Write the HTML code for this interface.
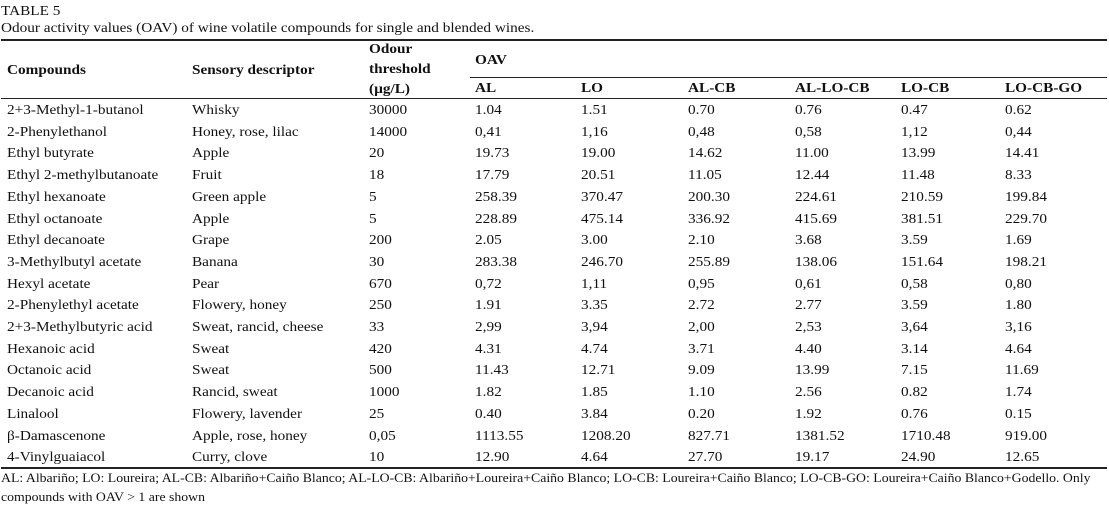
<!DOCTYPE html>
<html><head><meta charset="utf-8"><style>
body{margin:0;width:1109px;height:514px;background:#fff;position:relative;font-family:"Liberation Serif",serif;font-size:14px;color:#111;overflow:hidden}
.t,.col{position:absolute;white-space:nowrap;line-height:16px;transform:scaleX(1.09);transform-origin:0 0}
.col{line-height:21.7px;top:100px}
.b{font-weight:bold}
.l{position:absolute;background:#222}
.f{font-size:13px;transform:scaleX(1.06)}
</style></head><body>
<div class="t" style="left:1px;top:4px">TABLE 5</div>
<div class="t" style="left:1px;top:21px">Odour activity values (OAV) of wine volatile compounds for single and blended wines.</div>
<div class="l" style="left:1px;top:39px;width:1106px;height:2px"></div>
<div class="t b" style="left:7px;top:63px">Compounds</div>
<div class="t b" style="left:192px;top:63px">Sensory descriptor</div>
<div class="t b" style="left:369px;top:42px">Odour</div>
<div class="t b" style="left:369px;top:62px">threshold</div>
<div class="t b" style="left:369px;top:82px">(µg/L)</div>
<div class="t b" style="left:475px;top:53px">OAV</div>
<div class="l" style="left:470px;top:77px;width:637px;height:1px"></div>
<div class="t b" style="left:475px;top:81px">AL</div>
<div class="t b" style="left:581px;top:81px">LO</div>
<div class="t b" style="left:688px;top:81px">AL-CB</div>
<div class="t b" style="left:795px;top:81px">AL-LO-CB</div>
<div class="t b" style="left:901px;top:81px">LO-CB</div>
<div class="t b" style="left:1005px;top:81px">LO-CB-GO</div>
<div class="l" style="left:1px;top:98px;width:1106px;height:1px"></div>
<div class="l" style="left:1px;top:467px;width:1106px;height:2px"></div>
<div class="t f" style="left:1px;top:470px">AL: Albariño; LO: Loureira; AL-CB: Albariño+Caiño Blanco; AL-LO-CB: Albariño+Loureira+Caiño Blanco; LO-CB: Loureira+Caiño Blanco; LO-CB-GO: Loureira+Caiño Blanco+Godello. Only</div>
<div class="t f" style="left:1px;top:489px">compounds with OAV &gt; 1 are shown</div>
<div class="col" style="left:7px">2+3-Methyl-1-butanol<br>2-Phenylethanol<br>Ethyl butyrate<br>Ethyl 2-methylbutanoate<br>Ethyl hexanoate<br>Ethyl octanoate<br>Ethyl decanoate<br>3-Methylbutyl acetate<br>Hexyl acetate<br>2-Phenylethyl acetate<br>2+3-Methylbutyric acid<br>Hexanoic acid<br>Octanoic acid<br>Decanoic acid<br>Linalool<br>β-Damascenone<br>4-Vinylguaiacol</div>
<div class="col" style="left:192px">Whisky<br>Honey, rose, lilac<br>Apple<br>Fruit<br>Green apple<br>Apple<br>Grape<br>Banana<br>Pear<br>Flowery, honey<br>Sweat, rancid, cheese<br>Sweat<br>Sweat<br>Rancid, sweat<br>Flowery, lavender<br>Apple, rose, honey<br>Curry, clove</div>
<div class="col" style="left:369px">30000<br>14000<br>20<br>18<br>5<br>5<br>200<br>30<br>670<br>250<br>33<br>420<br>500<br>1000<br>25<br>0,05<br>10</div>
<div class="col" style="left:475px">1.04<br>0,41<br>19.73<br>17.79<br>258.39<br>228.89<br>2.05<br>283.38<br>0,72<br>1.91<br>2,99<br>4.31<br>11.43<br>1.82<br>0.40<br>1113.55<br>12.90</div>
<div class="col" style="left:581px">1.51<br>1,16<br>19.00<br>20.51<br>370.47<br>475.14<br>3.00<br>246.70<br>1,11<br>3.35<br>3,94<br>4.74<br>12.71<br>1.85<br>3.84<br>1208.20<br>4.64</div>
<div class="col" style="left:688px">0.70<br>0,48<br>14.62<br>11.05<br>200.30<br>336.92<br>2.10<br>255.89<br>0,95<br>2.72<br>2,00<br>3.71<br>9.09<br>1.10<br>0.20<br>827.71<br>27.70</div>
<div class="col" style="left:795px">0.76<br>0,58<br>11.00<br>12.44<br>224.61<br>415.69<br>3.68<br>138.06<br>0,61<br>2.77<br>2,53<br>4.40<br>13.99<br>2.56<br>1.92<br>1381.52<br>19.17</div>
<div class="col" style="left:901px">0.47<br>1,12<br>13.99<br>11.48<br>210.59<br>381.51<br>3.59<br>151.64<br>0,58<br>3.59<br>3,64<br>3.14<br>7.15<br>0.82<br>0.76<br>1710.48<br>24.90</div>
<div class="col" style="left:1005px">0.62<br>0,44<br>14.41<br>8.33<br>199.84<br>229.70<br>1.69<br>198.21<br>0,80<br>1.80<br>3,16<br>4.64<br>11.69<br>1.74<br>0.15<br>919.00<br>12.65</div>
</body></html>
